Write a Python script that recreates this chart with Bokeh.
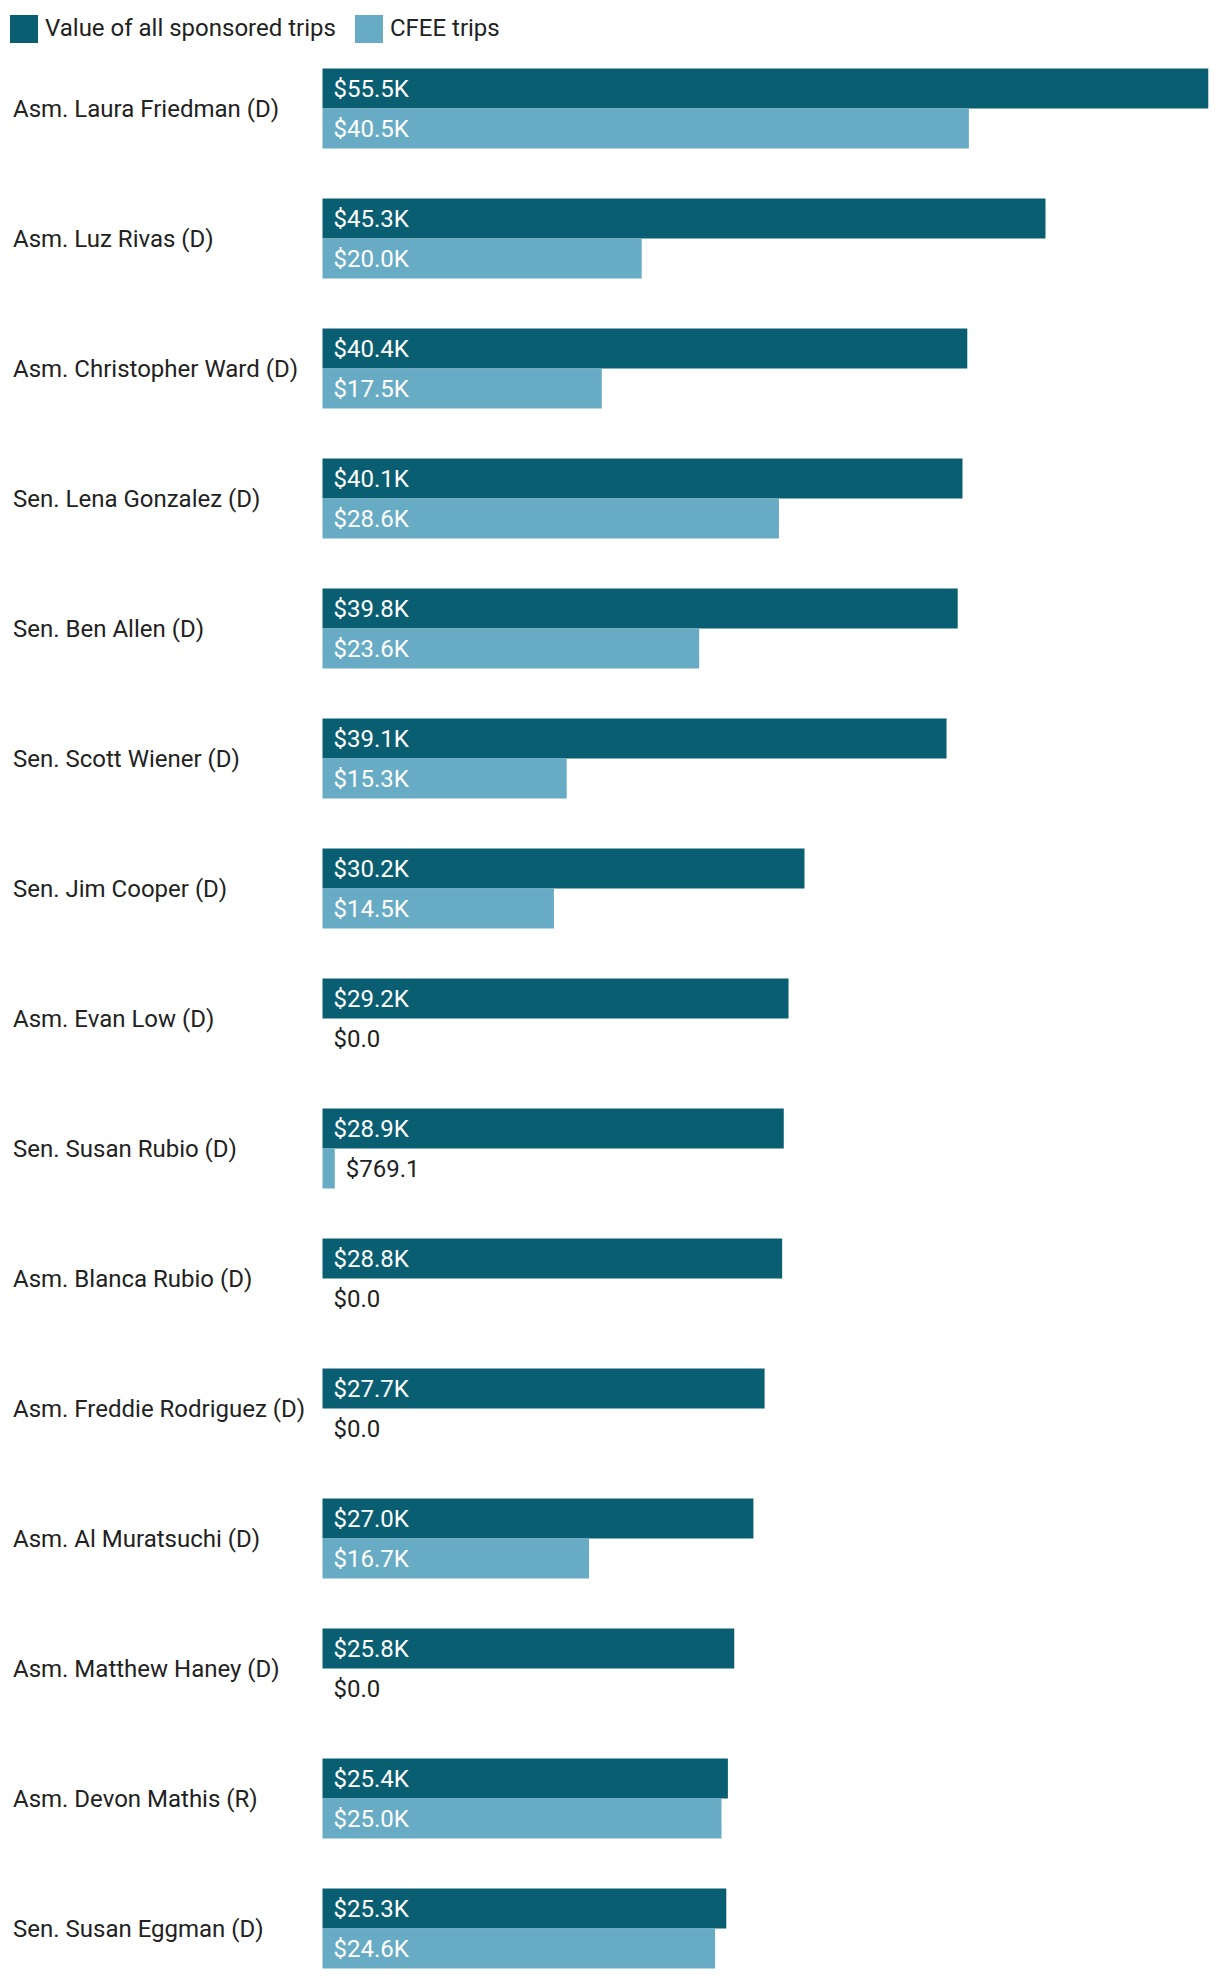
from bokeh.plotting import figure
from bokeh.models import ColumnDataSource, Range1d, Legend, LegendItem
from bokeh.core.properties import value
from bokeh.embed import file_html
from bokeh.resources import INLINE

# ---- data ----
names = [
    "Asm. Laura Friedman (D)", "Asm. Luz Rivas (D)", "Asm. Christopher Ward (D)",
    "Sen. Lena Gonzalez (D)", "Sen. Ben Allen (D)", "Sen. Scott Wiener (D)",
    "Sen. Jim Cooper (D)", "Asm. Evan Low (D)", "Sen. Susan Rubio (D)",
    "Asm. Blanca Rubio (D)", "Asm. Freddie Rodriguez (D)", "Asm. Al Muratsuchi (D)",
    "Asm. Matthew Haney (D)", "Asm. Devon Mathis (R)", "Sen. Susan Eggman (D)",
]
all_trips = [55500, 45300, 40400, 40100, 39800, 39100, 30200, 29200, 28900,
             28800, 27700, 27000, 25800, 25400, 25300]
cfee_trips = [40500, 20000, 17500, 28600, 23600, 15300, 14500, 0, 769.1,
              0, 0, 16700, 0, 25000, 24600]
series_labels = ["Value of all sponsored trips", "CFEE trips"]

# ---- style ----
DARK = "#095e72"
LIGHT = "#68abc4"
TEXT = "#222222"
FONT = value("Roboto")
FS = "24px"

W, H = 1220, 1980
X0_PX = 322.0            # pixel position of the value 0
PX_PER_DOLLAR = 15.96 / 1000.0
PX_PER_ROW = 130.0
BAR_H = 40.0 / PX_PER_ROW
TOP_PX = 108.0           # pixel position of first group's centre

x_start = -X0_PX / PX_PER_DOLLAR
x_end = (W - X0_PX) / PX_PER_DOLLAR
y_end = TOP_PX / PX_PER_ROW
y_start = y_end - H / PX_PER_ROW


def fmt(v):
    if v >= 1000:
        return "${:.1f}K".format(v / 1000.0)
    return "${:.1f}".format(v)


idx = list(range(len(names)))
yc = [-i for i in idx]
y_dark = [y + BAR_H / 2 for y in yc]
y_light = [y - BAR_H / 2 for y in yc]

src_dark = ColumnDataSource(dict(y=y_dark, v=all_trips))
src_light = ColumnDataSource(dict(y=y_light, v=cfee_trips))

p = figure(width=W, height=H, output_backend="svg", toolbar_location=None,
           x_range=Range1d(x_start, x_end), y_range=Range1d(y_start, y_end),
           x_axis_location=None, y_axis_location=None, min_border=0,
           outline_line_color=None, background_fill_color="white",
           border_fill_color="white")
p.grid.visible = False

r_dark = p.hbar(y="y", left=0, right="v", height=BAR_H, source=src_dark,
                fill_color=DARK, line_color=None)
r_light = p.hbar(y="y", left=0, right="v", height=BAR_H, source=src_light,
                 fill_color=LIGHT, line_color=None)

# value labels: inside the bar in white, or after a short bar in dark text
THRESH = 5000


def label_source(ys, vals):
    xs, txt, col = [], [], []
    for y, v in zip(ys, vals):
        if v >= THRESH:
            xs.append(0)
            col.append("white")
        else:
            xs.append(v)
            col.append(TEXT)
        txt.append(fmt(v))
    return ColumnDataSource(dict(x=xs, y=ys, t=txt, c=col))


for ys, vals in ((y_dark, all_trips), (y_light, cfee_trips)):
    p.text(x="x", y="y", text="t", text_color="c", source=label_source(ys, vals),
           x_offset=11, text_font=FONT, text_font_size=FS,
           text_baseline="middle", text_align="left")

# category labels
p.text(x=[x_start] * len(names), y=yc, text=names, x_offset=12.5,
       text_font=FONT, text_font_size=FS, text_color=TEXT,
       text_baseline="middle", text_align="left")

legend = Legend(items=[LegendItem(label=series_labels[0], renderers=[r_dark]),
                       LegendItem(label=series_labels[1], renderers=[r_light])],
                orientation="horizontal", location=(6, H - 45.5),
                glyph_width=35, glyph_height=35, label_standoff=4, spacing=15,
                padding=0, margin=0, border_line_alpha=0,
                background_fill_alpha=0, label_text_font="Roboto",
                label_text_font_size=FS, label_text_color=TEXT)
p.add_layout(legend)

open("out.html", "w").write(file_html(p, INLINE))
